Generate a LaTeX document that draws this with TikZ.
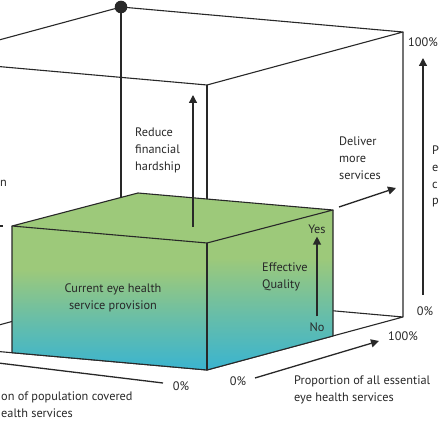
\documentclass[tikz,border=0pt]{standalone}
\usepackage{fontspec}
\setmainfont{PT Sans}
\usetikzlibrary{arrows.meta,positioning}
\definecolor{boxgreen}{RGB}{157,201,122}
\definecolor{boxblue}{RGB}{58,180,208}
\definecolor{inkgrey}{RGB}{40,40,40}
\pgfdeclareverticalshading{provshade}{100bp}{color(0bp)=(boxblue); color(25bp)=(boxblue); color(42bp)=(boxblue!55!boxgreen); color(60bp)=(boxgreen); color(100bp)=(boxgreen)}

\begin{document}
\begin{tikzpicture}[x=1pt, y=-1pt,
	edge/.style={line width=1.1pt, draw=inkgrey, line join=round},
	axisarrow/.style={line width=1.3pt, draw=inkgrey, -{Triangle[length=8pt, width=8pt]}},
	lbl/.style={font=\fontsize{12.3}{16.6}\selectfont, text=inkgrey, inner sep=0pt, align=left},
	]
	\useasboundingbox (0,0) rectangle (440,422);
	
	\coordinate (btop) at (121,   7);
	\coordinate (rtop) at (403,  32);
	\coordinate (ftop) at (207,  85);
	\coordinate (ltop) at (-75,  60);
	\coordinate (bbot) at (121, 292);
	\coordinate (rbot) at (403, 317);
	\coordinate (fbot) at (207, 370);
	\coordinate (lbot) at (-75, 345);
	
	\coordinate (cur-fl) at ( 12, 226);
	\coordinate (cur-fr) at (207, 243);
	\coordinate (cur-br) at (333, 210);
	\coordinate (cur-bl) at (138, 193);
	\coordinate (cur-fl-b) at ( 12, 352.7);
	\coordinate (cur-br-b) at (333, 336);
	
	\draw[edge] (ltop) -- (btop) -- (rtop) -- (ftop) -- (ltop);
	\draw[edge] (btop) -- (bbot);
	\draw[edge] (ftop) -- (fbot);
	\draw[edge] (rtop) -- (rbot) -- (fbot) -- (lbot) -- (bbot) -- (rbot);
	\fill[inkgrey] (btop) circle (6.3);
	
	\fill[boxgreen] (cur-fl) -- (cur-fr) -- (cur-br) -- (cur-bl) -- cycle;
	\shade[shading=provshade] (cur-fl) -- (cur-fr) -- (fbot) -- (cur-fl-b) -- cycle;
	\shade[shading=provshade] (cur-fr) -- (cur-br) -- (cur-br-b) -- (fbot) -- cycle;
	\draw[edge] (cur-fl) -- (cur-fr) -- (cur-br) -- (cur-bl) -- cycle;
	\draw[edge] (cur-fl) -- (cur-fl-b) -- (fbot) -- (cur-br-b) -- (cur-br);
	\draw[edge] (cur-fr) -- (fbot);
	
	\node[lbl, align=center] (current) at (113, 298) {Current eye health\\service provision};
	
	\coordinate (hard-from) at (193, 227);
	\coordinate (hard-to)   at (193,  95);
	\draw[axisarrow] (hard-from) -- (hard-to);
	\node[lbl, anchor=north west] (hardship) at (135, 128) {Reduce\\financial\\hardship};
	
	\coordinate (serv-from) at (339, 207);
	\coordinate (serv-to)   at (396, 188);
	\draw[axisarrow] (serv-from) -- (serv-to);
	\node[lbl, anchor=north west] (more) at (339, 137) {Deliver\\more\\services};
	
	\node[lbl] (yes) at (317, 229) {Yes};
	\node[lbl] (no)  at (317, 327) {No};
	\draw[axisarrow] (no.north) ++(0,-6) coordinate (qual-from) -- ([yshift=-3]yes.south);
	\node[lbl, anchor=north west] (quality) at (262, 263) {Effective\\Quality};
	
	\node[lbl] (v-top) at (423,  42) {100\%};
	\node[lbl] (v-bot) at (425, 311) {0\%};
	\coordinate (v-from) at (423, 295);
	\coordinate (v-to)   at (423,  58);
	\draw[axisarrow] (v-from) -- (v-to);
	\node[lbl, anchor=north west] (v-text) at (432, 146) {P\\e\\c\\p};
	
	\node[lbl] (h-zero) at (238, 381) {0\%};
	\node[lbl] (h-full) at (403, 336) {100\%};
	\coordinate (h-from) at (255, 378);
	\coordinate (h-to)   at (379, 341);
	\draw[axisarrow] (h-from) -- (h-to);
	\node[lbl, anchor=north west] (h-text) at (294, 376) {Proportion of all essential\\eye health services};
	
	\node[lbl] (p-zero) at (181, 386) {0\%};
	\coordinate (p-from) at (163, 383);
	\coordinate (p-to)   at (-10, 362);
	\draw[edge, line width=1.3pt] (p-from) -- (p-to);
	\node[lbl, anchor=north west] (p-text) at (1, 392) {on of population covered\\ealth services};
	
	\node[lbl, anchor=west] (cut-n) at (0, 183) {n};
	\coordinate (cut-a) at (-1, 226);
	\coordinate (cut-b) at (3, 226);
	\draw[edge] (cut-a) -- (cut-b);
\end{tikzpicture}
\end{document}
